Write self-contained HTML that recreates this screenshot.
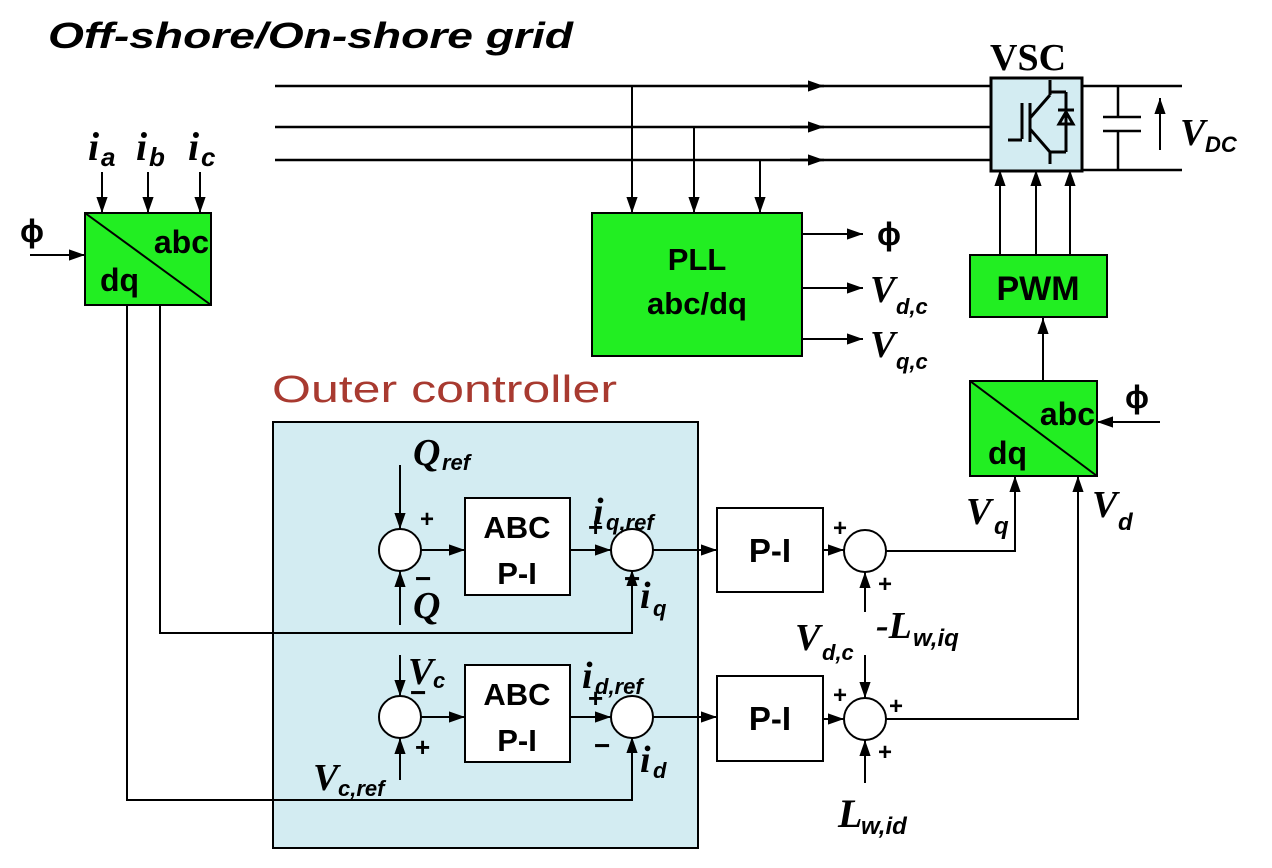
<!DOCTYPE html>
<html><head><meta charset="utf-8"><style>
html,body{margin:0;padding:0;background:#fff;}
svg{display:block;}
.s{font-family:"Liberation Sans",sans-serif;font-weight:bold;}
.m{font-family:"Liberation Serif",serif;font-weight:bold;font-style:italic;}
.ms{font-family:"Liberation Sans",sans-serif;font-weight:bold;font-style:italic;}
</style></head><body>
<svg width="1272" height="868" viewBox="0 0 1272 868" xmlns="http://www.w3.org/2000/svg">
<defs>
<marker id="b" viewBox="0 0 10 10" refX="10" refY="5" markerWidth="16" markerHeight="16" markerUnits="userSpaceOnUse" orient="auto"><path d="M0,1.5 L10,5 L0,8.5 z" fill="#000"/></marker>
</defs>
<g stroke="#000" stroke-width="2.5" fill="none">
<text x="48" y="48" class="ms" font-size="36" stroke="none" fill="#000" textLength="525" lengthAdjust="spacingAndGlyphs">Off-shore/On-shore grid</text>
<line x1="275" y1="86" x2="990" y2="86"/>
<line x1="275" y1="127" x2="990" y2="127"/>
<line x1="275" y1="160" x2="990" y2="160"/>
<line x1="790" y1="86" x2="824" y2="86" marker-end="url(#b)"/>
<line x1="790" y1="127" x2="824" y2="127" marker-end="url(#b)"/>
<line x1="790" y1="160" x2="824" y2="160" marker-end="url(#b)"/>
<g stroke-width="2">
<line x1="632" y1="86" x2="632" y2="213" marker-end="url(#b)"/>
<line x1="694" y1="127" x2="694" y2="213" marker-end="url(#b)"/>
<line x1="760" y1="160" x2="760" y2="213" marker-end="url(#b)"/>
</g>
<rect x="991" y="78" width="91" height="93" fill="#d3ecf2" stroke-width="3"/>
<g stroke-width="3">
<line x1="1022" y1="103" x2="1022" y2="139"/><line x1="1008" y1="140" x2="1022" y2="140"/>
<line x1="1030" y1="103" x2="1030" y2="142"/>
<line x1="1030" y1="118" x2="1050" y2="95"/><line x1="1030" y1="129" x2="1050" y2="152"/>
<line x1="1050" y1="95" x2="1050" y2="80"/><line x1="1050" y1="152" x2="1050" y2="164"/>
<line x1="1050" y1="92" x2="1066" y2="92"/><line x1="1050" y1="152" x2="1066" y2="152"/>
<line x1="1066" y1="92" x2="1066" y2="152"/>
<line x1="1058" y1="110" x2="1074" y2="110"/>
<path d="M1059,124 L1073,124 L1066,112 z"/>
</g>
<text x="990" y="70" font-family="Liberation Serif, serif" font-weight="bold" font-size="38" stroke="none" fill="#000">VSC</text>
<line x1="1082" y1="86" x2="1182" y2="86"/><line x1="1082" y1="170" x2="1182" y2="170"/>
<line x1="1118" y1="86" x2="1118" y2="117"/><line x1="1118" y1="131" x2="1118" y2="170"/>
<line x1="1103" y1="117" x2="1141" y2="117"/><line x1="1103" y1="131" x2="1141" y2="131"/>
<line x1="1160" y1="150" x2="1160" y2="98" stroke-width="2" marker-end="url(#b)"/>
<text x="1180" y="145" class="m" font-size="38" stroke="none" fill="#000">V</text>
<text x="1205" y="152" class="ms" font-size="22" stroke="none" fill="#000">DC</text>
<rect x="970" y="255" width="137" height="62" fill="#22ee22" stroke-width="2"/>
<text x="1038" y="300" class="s" font-size="34" text-anchor="middle" stroke="none" fill="#000">PWM</text>
<g stroke-width="2">
<line x1="1000" y1="255" x2="1000" y2="170" marker-end="url(#b)"/>
<line x1="1036" y1="255" x2="1036" y2="170" marker-end="url(#b)"/>
<line x1="1070" y1="255" x2="1070" y2="170" marker-end="url(#b)"/>
<line x1="1043" y1="381" x2="1043" y2="318" marker-end="url(#b)"/>
</g>
<rect x="970" y="381" width="127" height="95" fill="#22ee22" stroke-width="2"/>
<line x1="970" y1="381" x2="1097" y2="476" stroke-width="2"/>
<text x="1095" y="425" class="s" font-size="32" text-anchor="end" stroke="none" fill="#000">abc</text>
<text x="988" y="464" class="s" font-size="32" stroke="none" fill="#000">dq</text>
<line x1="1160" y1="422" x2="1097" y2="422" stroke-width="2" marker-end="url(#b)"/>
<text x="1125" y="408" class="s" font-size="32" stroke="none" fill="#000">ϕ</text>
<rect x="592" y="213" width="210" height="143" fill="#22ee22" stroke-width="2"/>
<text x="697" y="270" class="s" font-size="31" text-anchor="middle" stroke="none" fill="#000">PLL</text>
<text x="697" y="314" class="s" font-size="31" text-anchor="middle" stroke="none" fill="#000">abc/dq</text>
<g stroke-width="2">
<line x1="802" y1="234" x2="863" y2="234" marker-end="url(#b)"/>
<line x1="802" y1="288" x2="863" y2="288" marker-end="url(#b)"/>
<line x1="802" y1="339" x2="863" y2="339" marker-end="url(#b)"/>
</g>
<text x="877" y="245" class="s" font-size="32" stroke="none" fill="#000">ϕ</text>
<text x="870" y="302" class="m" font-size="38" stroke="none" fill="#000">V</text><text x="896" y="314" class="ms" font-size="22" stroke="none" fill="#000">d,c</text>
<text x="870" y="357" class="m" font-size="38" stroke="none" fill="#000">V</text><text x="896" y="369" class="ms" font-size="22" stroke="none" fill="#000">q,c</text>
<rect x="85" y="213" width="126" height="92" fill="#22ee22" stroke-width="2"/>
<line x1="85" y1="213" x2="211" y2="305" stroke-width="2"/>
<text x="209" y="253" class="s" font-size="32" text-anchor="end" stroke="none" fill="#000">abc</text>
<text x="100" y="291" class="s" font-size="32" stroke="none" fill="#000">dq</text>
<line x1="30" y1="255" x2="85" y2="255" stroke-width="2" marker-end="url(#b)"/>
<text x="20" y="242" class="s" font-size="32" stroke="none" fill="#000">ϕ</text>
<g stroke-width="2">
<line x1="102" y1="172" x2="102" y2="213" marker-end="url(#b)"/>
<line x1="148" y1="172" x2="148" y2="213" marker-end="url(#b)"/>
<line x1="200" y1="172" x2="200" y2="213" marker-end="url(#b)"/>
</g>
<text x="88" y="160" class="m" font-size="40" stroke="none" fill="#000">i</text><text x="101" y="166" class="ms" font-size="26" stroke="none" fill="#000">a</text>
<text x="136" y="160" class="m" font-size="40" stroke="none" fill="#000">i</text><text x="149" y="166" class="ms" font-size="26" stroke="none" fill="#000">b</text>
<text x="188" y="160" class="m" font-size="40" stroke="none" fill="#000">i</text><text x="201" y="166" class="ms" font-size="26" stroke="none" fill="#000">c</text>
<text x="272" y="402" font-family="Liberation Sans, sans-serif" font-size="38" stroke="none" fill="#a83a30" textLength="345" lengthAdjust="spacingAndGlyphs">Outer controller</text>
<rect x="273" y="422" width="425" height="426" fill="#d3ecf2" stroke-width="2"/>
<g stroke-width="2">
<polyline points="127,305 127,800 632,800 632,737" marker-end="url(#b)"/>
<polyline points="160,305 160,633 632,633 632,570" marker-end="url(#b)"/>
</g>
<g stroke-width="2" fill="#fff">
<circle cx="400" cy="550" r="21"/>
<circle cx="632" cy="550" r="21"/>
<circle cx="400" cy="717" r="21"/>
<circle cx="632" cy="717" r="21"/>
<circle cx="865" cy="551" r="21"/>
<circle cx="865" cy="719" r="21"/>
<rect x="465" y="498" width="105" height="97"/>
<rect x="465" y="665" width="105" height="97"/>
<rect x="717" y="508" width="106" height="84"/>
<rect x="717" y="676" width="106" height="85"/>
</g>
<g stroke-width="2">
<line x1="400" y1="465" x2="400" y2="529" marker-end="url(#b)"/>
<line x1="400" y1="625" x2="400" y2="571" marker-end="url(#b)"/>
<line x1="421" y1="550" x2="465" y2="550" marker-end="url(#b)"/>
<line x1="570" y1="550" x2="611" y2="550" marker-end="url(#b)"/>
<line x1="653" y1="550" x2="717" y2="550" marker-end="url(#b)"/>
<line x1="823" y1="550" x2="844" y2="550" marker-end="url(#b)"/>
<line x1="865" y1="612" x2="865" y2="572" marker-end="url(#b)"/>
<line x1="400" y1="655" x2="400" y2="696" marker-end="url(#b)"/>
<line x1="400" y1="780" x2="400" y2="738" marker-end="url(#b)"/>
<line x1="421" y1="717" x2="465" y2="717" marker-end="url(#b)"/>
<line x1="570" y1="717" x2="611" y2="717" marker-end="url(#b)"/>
<line x1="653" y1="717" x2="717" y2="717" marker-end="url(#b)"/>
<line x1="823" y1="719" x2="844" y2="719" marker-end="url(#b)"/>
<line x1="865" y1="655" x2="865" y2="698" marker-end="url(#b)"/>
<line x1="865" y1="783" x2="865" y2="740" marker-end="url(#b)"/>
<polyline points="886,551 1015,551 1015,476" marker-end="url(#b)"/>
<polyline points="886,719 1078,719 1078,476" marker-end="url(#b)"/>
</g>
<g stroke="none" fill="#000">
<text x="517" y="538" class="s" font-size="31" text-anchor="middle">ABC</text>
<text x="517" y="584" class="s" font-size="31" text-anchor="middle">P-I</text>
<text x="517" y="705" class="s" font-size="31" text-anchor="middle">ABC</text>
<text x="517" y="751" class="s" font-size="31" text-anchor="middle">P-I</text>
<text x="770" y="562" class="s" font-size="33" text-anchor="middle">P-I</text>
<text x="770" y="730" class="s" font-size="33" text-anchor="middle">P-I</text>
<text x="413" y="465" class="m" font-size="38">Q</text><text x="442" y="470" class="ms" font-size="22">ref</text>
<text x="413" y="618" class="m" font-size="38">Q</text>
<text x="420" y="527" class="s" font-size="24">+</text>
<text x="415" y="588" class="s" font-size="28">−</text>
<text x="588" y="536" class="s" font-size="26">+</text>
<text x="593" y="524" class="m" font-size="38">i</text><text x="606" y="530" class="ms" font-size="22">q,ref</text>
<text x="624" y="588" class="s" font-size="28">−</text>
<text x="640" y="608" class="m" font-size="38">i</text><text x="653" y="616" class="ms" font-size="22">q</text>
<text x="408" y="684" class="m" font-size="38">V</text><text x="433" y="688" class="ms" font-size="22">c</text>
<text x="410" y="702" class="s" font-size="28">−</text>
<text x="415" y="756" class="s" font-size="26">+</text>
<text x="313" y="790" class="m" font-size="38">V</text><text x="338" y="796" class="ms" font-size="22">c,ref</text>
<text x="582" y="688" class="m" font-size="38">i</text><text x="595" y="694" class="ms" font-size="22">d,ref</text>
<text x="588" y="707" class="s" font-size="26">+</text>
<text x="594" y="755" class="s" font-size="28">−</text>
<text x="640" y="772" class="m" font-size="38">i</text><text x="653" y="778" class="ms" font-size="22">d</text>
<text x="833" y="536" class="s" font-size="24">+</text>
<text x="878" y="592" class="s" font-size="24">+</text>
<text x="833" y="703" class="s" font-size="24">+</text>
<text x="889" y="714" class="s" font-size="24">+</text>
<text x="878" y="760" class="s" font-size="24">+</text>
<text x="876" y="638" class="m" font-size="38">-L</text><text x="913" y="646" class="ms" font-size="24">w,iq</text>
<text x="795" y="650" class="m" font-size="38">V</text><text x="822" y="660" class="ms" font-size="22">d,c</text>
<text x="838" y="827" class="m" font-size="40">L</text><text x="861" y="834" class="ms" font-size="24">w,id</text>
<text x="966" y="524" class="m" font-size="38">V</text><text x="994" y="534" class="ms" font-size="24">q</text>
<text x="1092" y="517" class="m" font-size="38">V</text><text x="1118" y="530" class="ms" font-size="24">d</text>
</g>
</g>
</svg>
</body></html>
